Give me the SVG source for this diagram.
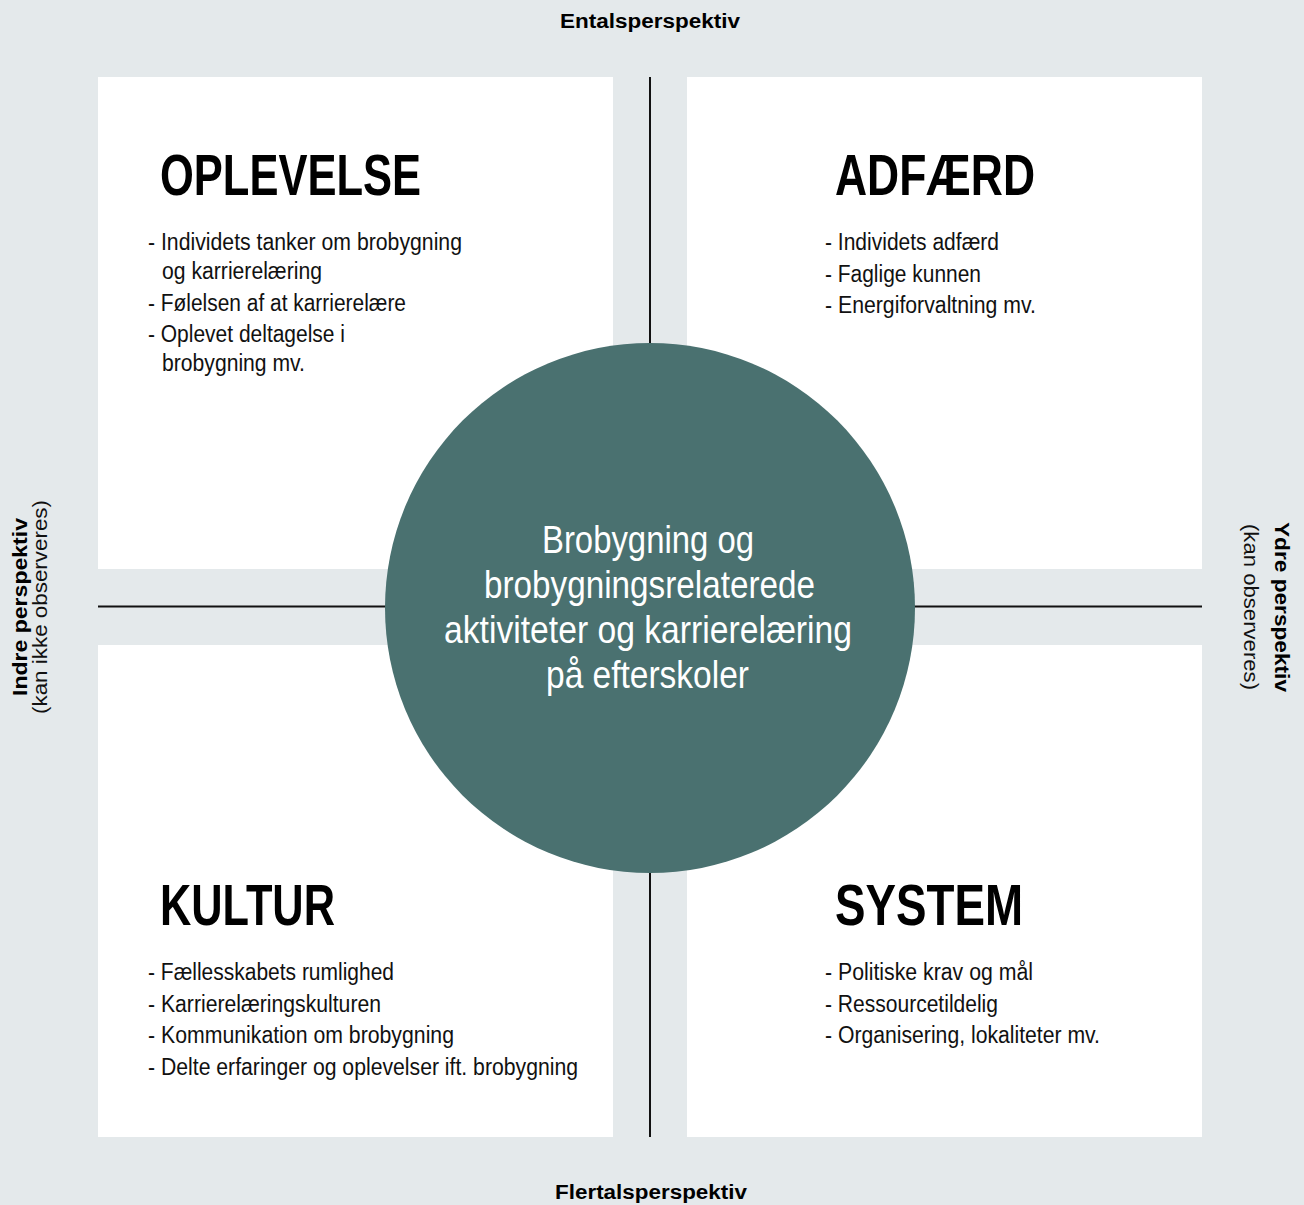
<svg xmlns="http://www.w3.org/2000/svg" width="1304" height="1205" viewBox="0 0 1304 1205">
<style>
.bg{fill:#e4e9eb}
.quad{fill:#ffffff}
.axis{stroke:#111111;stroke-width:2;fill:none}
.head{font-family:"Liberation Sans",Arial,sans-serif;font-weight:bold;font-size:58px;fill:#000000}
.item{font-family:"Liberation Sans",Arial,sans-serif;font-size:23px;fill:#111111}
.center{font-family:"Liberation Sans",Arial,sans-serif;font-size:39px;fill:#ffffff;text-anchor:middle}
.lab{font-family:"Liberation Sans",Arial,sans-serif;font-size:20px;fill:#111111;text-anchor:middle}
.labb{font-family:"Liberation Sans",Arial,sans-serif;font-size:20px;font-weight:bold;fill:#000000;text-anchor:middle}
</style>
<rect class="bg" x="0" y="0" width="1304" height="1205"/>
<g id="labels">
<text class="labb" x="650" y="28" textLength="180" lengthAdjust="spacingAndGlyphs">Entalsperspektiv</text>
<text class="labb" x="651" y="1199" textLength="192" lengthAdjust="spacingAndGlyphs">Flertalsperspektiv</text>
<text class="labb" transform="translate(27,607) rotate(-90)" x="0" y="0" textLength="178" lengthAdjust="spacingAndGlyphs">Indre perspektiv</text>
<text class="lab" transform="translate(47,607) rotate(-90)" x="0" y="0" textLength="214" lengthAdjust="spacingAndGlyphs">(kan ikke observeres)</text>
<text class="labb" transform="translate(1275,607) rotate(90)" x="0" y="0" textLength="170" lengthAdjust="spacingAndGlyphs">Ydre perspektiv</text>
<text class="lab" transform="translate(1244,607) rotate(90)" x="0" y="0" textLength="166" lengthAdjust="spacingAndGlyphs">(kan observeres)</text>
</g>
<g id="node-oplevelse">
<rect class="quad" x="98" y="77" width="515" height="492"/>
<text class="head" x="160" y="195" textLength="261" lengthAdjust="spacingAndGlyphs">OPLEVELSE</text>
<text class="item" x="148" y="250" textLength="314" lengthAdjust="spacingAndGlyphs">- Individets tanker om brobygning</text>
<text class="item" x="162" y="279" textLength="160" lengthAdjust="spacingAndGlyphs">og karrierelæring</text>
<text class="item" x="148" y="311" textLength="258" lengthAdjust="spacingAndGlyphs">- Følelsen af at karrierelære</text>
<text class="item" x="148" y="342" textLength="197" lengthAdjust="spacingAndGlyphs">- Oplevet deltagelse i</text>
<text class="item" x="162" y="371" textLength="143" lengthAdjust="spacingAndGlyphs">brobygning mv.</text>
</g>
<g id="node-adfaerd">
<rect class="quad" x="687" y="77" width="515" height="492"/>
<text class="head" x="835" y="195" textLength="200" lengthAdjust="spacingAndGlyphs">ADFÆRD</text>
<text class="item" x="825" y="250" textLength="174" lengthAdjust="spacingAndGlyphs">- Individets adfærd</text>
<text class="item" x="825" y="282" textLength="156" lengthAdjust="spacingAndGlyphs">- Faglige kunnen</text>
<text class="item" x="825" y="313" textLength="211" lengthAdjust="spacingAndGlyphs">- Energiforvaltning mv.</text>
</g>
<g id="node-kultur">
<rect class="quad" x="98" y="645" width="515" height="492"/>
<text class="head" x="160" y="925" textLength="175" lengthAdjust="spacingAndGlyphs">KULTUR</text>
<text class="item" x="148" y="980" textLength="246" lengthAdjust="spacingAndGlyphs">- Fællesskabets rumlighed</text>
<text class="item" x="148" y="1012" textLength="233" lengthAdjust="spacingAndGlyphs">- Karrierelæringskulturen</text>
<text class="item" x="148" y="1043" textLength="306" lengthAdjust="spacingAndGlyphs">- Kommunikation om brobygning</text>
<text class="item" x="148" y="1075" textLength="430" lengthAdjust="spacingAndGlyphs">- Delte erfaringer og oplevelser ift. brobygning</text>
</g>
<g id="node-system">
<rect class="quad" x="687" y="645" width="515" height="492"/>
<text class="head" x="835" y="925" textLength="188" lengthAdjust="spacingAndGlyphs">SYSTEM</text>
<text class="item" x="825" y="980" textLength="208" lengthAdjust="spacingAndGlyphs">- Politiske krav og mål</text>
<text class="item" x="825" y="1012" textLength="173" lengthAdjust="spacingAndGlyphs">- Ressourcetildelig</text>
<text class="item" x="825" y="1043" textLength="275" lengthAdjust="spacingAndGlyphs">- Organisering, lokaliteter mv.</text>
</g>
<g id="connectors">
<line class="axis" x1="650" y1="77" x2="650" y2="1137"/>
<line class="axis" x1="98" y1="606.5" x2="1202" y2="606.5"/>
</g>
<g id="node-center">
<circle cx="650" cy="608" r="265" fill="#4a7170"/>
<text class="center" x="648" y="553" textLength="212" lengthAdjust="spacingAndGlyphs">Brobygning og</text>
<text class="center" x="649.5" y="598" textLength="331" lengthAdjust="spacingAndGlyphs">brobygningsrelaterede</text>
<text class="center" x="648" y="643" textLength="408" lengthAdjust="spacingAndGlyphs">aktiviteter og karrierelæring</text>
<text class="center" x="647.5" y="688" textLength="203" lengthAdjust="spacingAndGlyphs">på efterskoler</text>
</g>
</svg>
